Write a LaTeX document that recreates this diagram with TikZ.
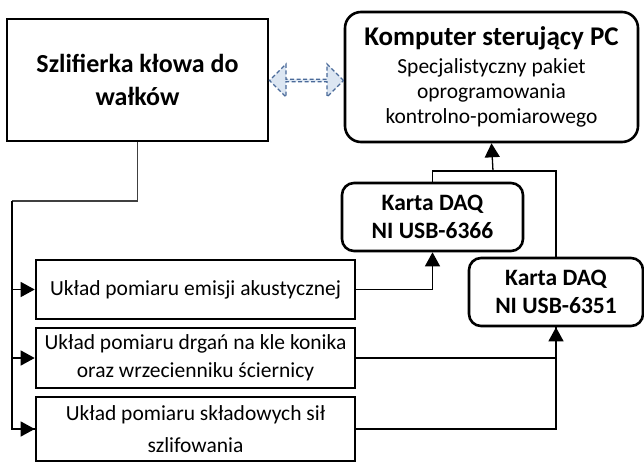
\documentclass[tikz,border=0pt]{standalone}
\usepackage{fontspec}
\setmainfont{Carlito}
\usetikzlibrary{arrows.meta,positioning,calc,shapes.arrows}
\definecolor{linkfill}{HTML}{DCE6F2}
\definecolor{linkdraw}{HTML}{4A6A99}

\begin{document}
\begin{tikzpicture}[x=1pt,y=-1pt,every node/.style={font=\fontsize{21.5}{28}\selectfont},
 b/.style={draw,line width=2.6pt,minimum width=319pt,align=center,inner sep=0pt},
 r/.style={draw,line width=2.6pt,rounded corners=12pt,align=center,inner sep=0pt},
 arr/.style={-{Triangle[length=14pt,width=15pt]},line width=1.3pt},
 ln/.style={line width=1.3pt}]
\useasboundingbox (0,0) rectangle (644,461);
\node[b,minimum width=261pt,minimum height=122pt,font=\fontsize{26}{33}\selectfont\bfseries] (machine) at (137.5,80) {Szlifierka kłowa do\\wałków};
\node[r,rounded corners=16pt,minimum width=293pt,minimum height=130pt,font=\fontsize{21.5}{25}\selectfont] (pc) at (491.5,77)
 {{\fontsize{27}{27}\selectfont\bfseries Komputer sterujący PC}\\[3pt]Specjalistyczny pakiet\\oprogramowania\\kontrolno-pomiarowego};
\node[r,minimum width=181pt,minimum height=68pt,font=\fontsize{23.5}{28}\selectfont\bfseries] (daq1) at (432.5,217) {Karta DAQ\\NI USB-6366};
\node[r,minimum width=174pt,minimum height=68pt,font=\fontsize{23.5}{28}\selectfont\bfseries] (daq2) at (556,292) {Karta DAQ\\NI USB-6351};
\node[b,minimum height=59pt] (ae) at (195.5,289.5) {Układ pomiaru emisji akustycznej};
\node[b,minimum height=60pt] (vib) at (195.5,358) {Układ pomiaru drgań na kle konika\\oraz wrzecienniku ściernicy};
\node[b,minimum height=64pt,font=\fontsize{21.5}{32}\selectfont] (force) at (195.5,429) {Układ pomiaru składowych sił\\szlifowania};
\node[double arrow,draw=linkdraw,fill=linkfill,dash pattern=on 4pt off 2.5pt,line width=1.3pt,minimum height=74pt,minimum width=33pt,
 double arrow head extend=8pt,double arrow tip angle=90,inner sep=0pt] (link) at (306.5,80.5) {};
\coordinate (rail) at (12,201);
\coordinate (bus) at (493,171);
\draw[ln,black!75] (machine.south) |- (rail);
\draw[ln] (rail) |- (force.west);
\draw[arr] (rail) |- (ae.west);
\draw[arr] (rail) |- (vib.west);
\draw[arr] (rail) |- (force.west);
\draw[arr] (ae.east) -| (daq1.south);
\draw[arr] (vib.east) -| (daq2.south);
\draw[ln] (force.east) -| (daq2.south);
\draw[ln] (daq1.north) |- (bus);
\draw[ln] (daq2.north) |- (bus);
\draw[arr] (bus) -- (pc.south);
\end{tikzpicture}
\end{document}
